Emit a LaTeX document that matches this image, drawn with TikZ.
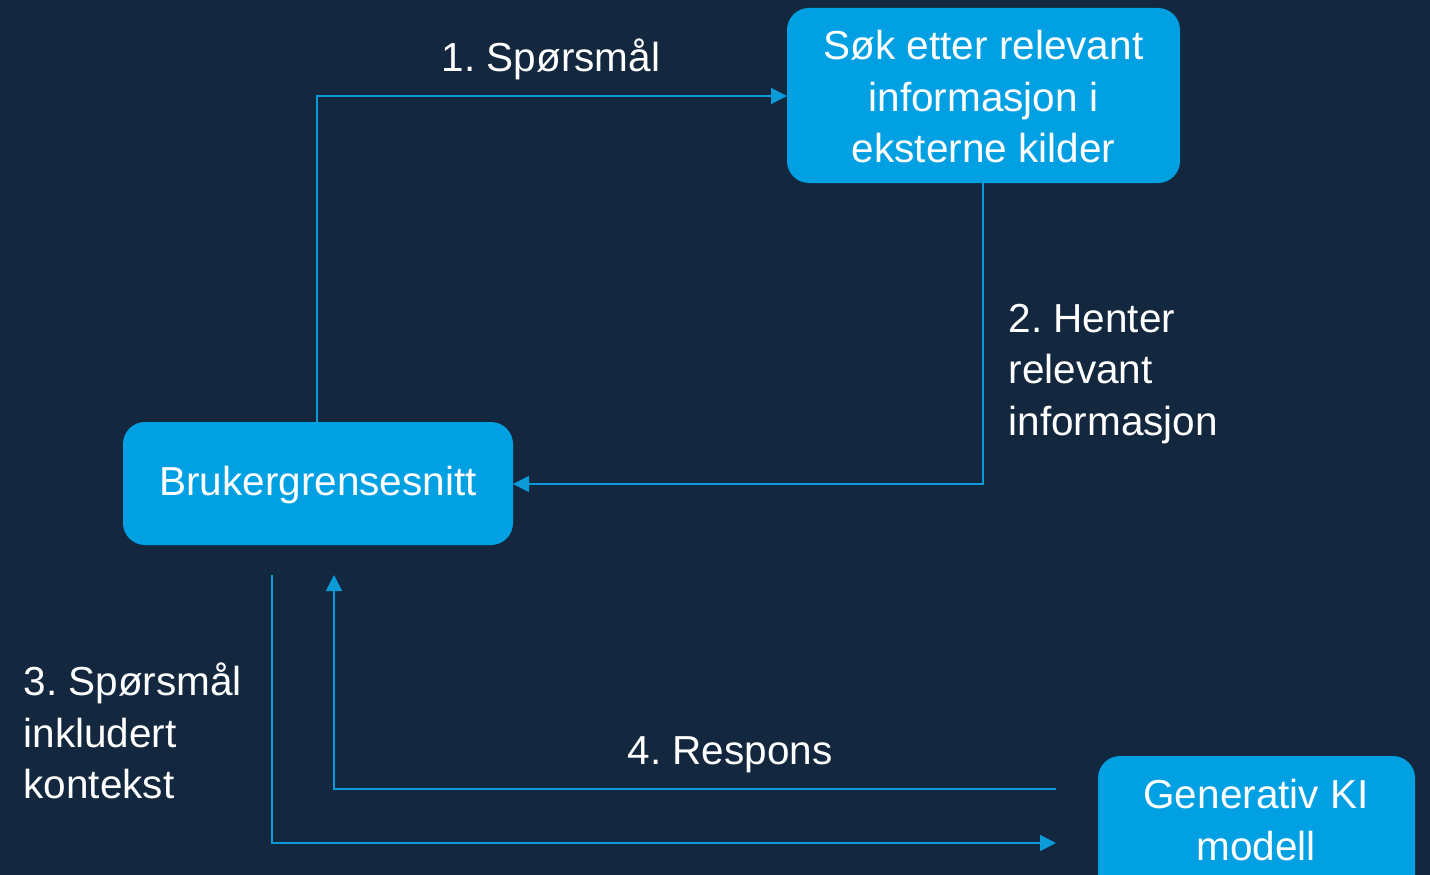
\documentclass[tikz,border=0pt]{standalone}
\usepackage{fontspec}
\setmainfont{Liberation Sans}
\usetikzlibrary{arrows.meta}
\definecolor{bg}{HTML}{13283E}
\definecolor{boxc}{HTML}{00A0E3}
\definecolor{linec}{HTML}{0A9BD8}
\frenchspacing
\tikzset{
  box/.style={fill=boxc, rounded corners=22pt, inner sep=0pt},
  conn/.style={draw=linec, line width=1.5pt, -{Triangle[length=16pt,width=16pt]}},
  txt/.style={text=white, font=\fontsize{40.5}{51.5}\selectfont},
}
\begin{document}
\begin{tikzpicture}[x=1pt,y=-1pt]
\useasboundingbox (0,0) rectangle (1430,875);
\clip (0,0) rectangle (1430,875);
\fill[bg] (0,0) rectangle (1430,875);
% boxes
\path[box] (787,8) rectangle (1180,183);
\node[txt, align=center] (sok) at (983.5,97) {Søk etter relevant\\informasjon i\\eksterne kilder};
\coordinate (sokW) at (787,96);
\coordinate (sokS) at (983,183);
\path[box] (123,422) rectangle (513,545);
\node[txt] (bru) at (318,485) {Brukergrensesnitt};
\coordinate (bruN) at (317,422);
\coordinate (bruE) at (513,484);
\path[box] (1098,756) rectangle (1415,905);
\node[txt, align=center] (gen) at (1256,820) {Generativ KI\\modell};
% connectors
\coordinate (c3a) at (272,575);
\coordinate (c3b) at (1056,843);
\coordinate (c4a) at (1056,789);
\coordinate (c4b) at (334,575);
\draw[conn] (bruN) |- (sokW);
\draw[conn] (sokS) |- (bruE);
\draw[conn] (c3a) |- (c3b);
\draw[conn] (c4a) -| (c4b);
% labels
\node[txt] (l1) at (551,59) {1. Spørsmål};
\node[txt, align=left, anchor=west] (l2) at (1005,374) {2. Henter\\relevant\\informasjon};
\node[txt, align=left, anchor=west] (l3) at (20,731) {3. Spørsmål\\inkludert\\kontekst};
\node[txt] (l4) at (730,755) {4. Respons};
\end{tikzpicture}
\end{document}
